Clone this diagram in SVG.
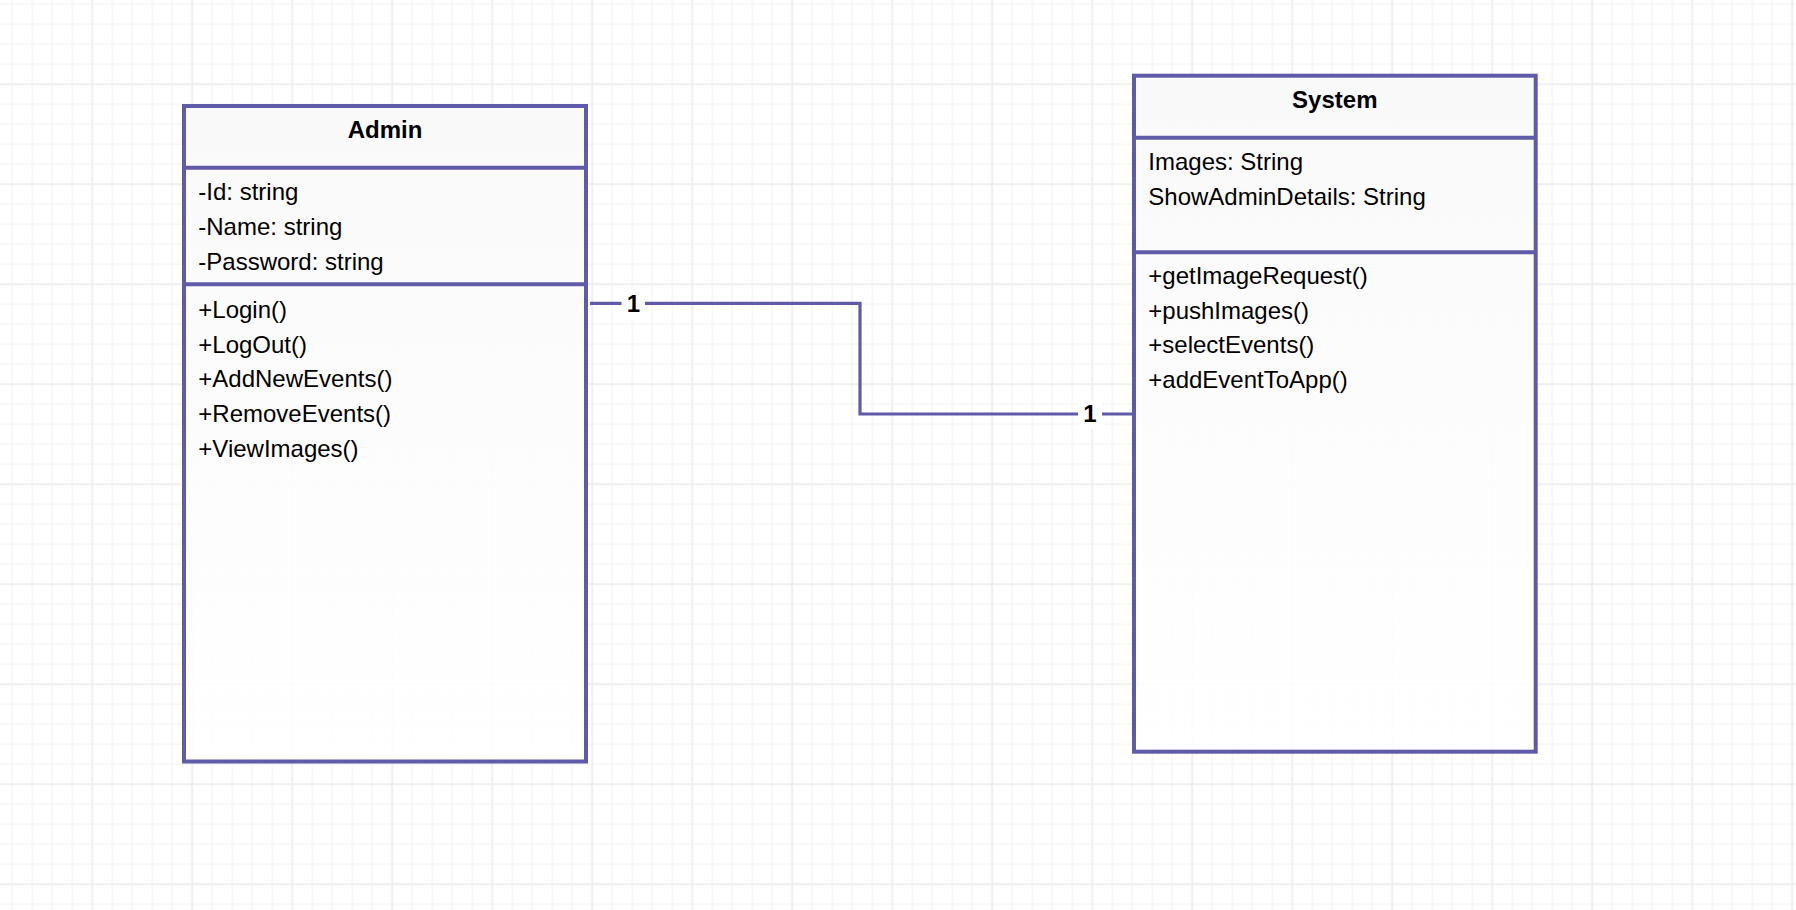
<svg xmlns="http://www.w3.org/2000/svg" width="1796" height="910" viewBox="0 0 1796 910">
  <defs>
    <pattern id="minor" patternUnits="userSpaceOnUse" x="11.5" y="3.5" width="20" height="20">
      <path d="M0.5 0V20M0 0.5H20" stroke="#f3f3f3" stroke-width="1.5" fill="none"/>
    </pattern>
    <pattern id="major" patternUnits="userSpaceOnUse" x="91.5" y="83.5" width="100" height="100">
      <path d="M0.5 0V100M0 0.5H100" stroke="#ececec" stroke-width="1.5" fill="none"/>
    </pattern>
    <linearGradient id="boxfill" x1="0" y1="0" x2="0" y2="1">
      <stop offset="0" stop-color="#f9f9f9"/>
      <stop offset="0.45" stop-color="#fcfcfc" stop-opacity="0.95"/>
      <stop offset="1" stop-color="#ffffff" stop-opacity="0.85"/>
    </linearGradient>
  </defs>
  <style>
    .box { fill: url(#boxfill); stroke: #5f5ba8; stroke-width: 4; }
    .div { stroke: #5f5ba8; stroke-width: 4; fill: none; }
    .conn { stroke: #5f5ba8; stroke-width: 3.2; fill: none; }
    .title { font-family: "Liberation Sans", Arial, sans-serif; font-size: 24px; font-weight: bold; fill: #000; text-anchor: middle; }
    .txt { font-family: "Liberation Sans", Arial, sans-serif; font-size: 24px; fill: #000; }
    .lbl { font-family: "Liberation Sans", Arial, sans-serif; font-size: 24px; font-weight: bold; fill: #000; text-anchor: middle; }
  </style>
  <rect width="1796" height="910" fill="#ffffff"/>
  <rect width="1796" height="910" fill="url(#minor)"/>
  <rect width="1796" height="910" fill="url(#major)"/>

  <g id="connectors">
    <path class="conn" d="M590 303.3H860V414H1133"/>
    <rect x="621.5" y="290" width="23.5" height="28" fill="#ffffff"/>
    <text class="lbl" x="633.5" y="311.7">1</text>
    <rect x="1078" y="401" width="24" height="28" fill="#ffffff"/>
    <text class="lbl" x="1090" y="421.7">1</text>
  </g>

  <g id="admin">
    <rect class="box" x="184" y="106" width="402" height="655.5"/>
    <line class="div" x1="184" y1="167.7" x2="586" y2="167.7"/>
    <line class="div" x1="184" y1="284.3" x2="586" y2="284.3"/>
    <text class="title" x="385" y="138.3">Admin</text>
    <text class="txt" x="198.3" y="200">-Id: string</text>
    <text class="txt" x="198.3" y="235">-Name: string</text>
    <text class="txt" x="198.3" y="270">-Password: string</text>
    <text class="txt" x="198.3" y="317.7">+Login()</text>
    <text class="txt" x="198.3" y="352.5">+LogOut()</text>
    <text class="txt" x="198.3" y="387">+AddNewEvents()</text>
    <text class="txt" x="198.3" y="421.8">+RemoveEvents()</text>
    <text class="txt" x="198.3" y="456.6">+ViewImages()</text>
  </g>

  <g id="system">
    <rect class="box" x="1134" y="75.7" width="401.7" height="676"/>
    <line class="div" x1="1134" y1="137.7" x2="1535.7" y2="137.7"/>
    <line class="div" x1="1134" y1="252.3" x2="1535.7" y2="252.3"/>
    <text class="title" x="1334.8" y="108.3">System</text>
    <text class="txt" x="1148.3" y="170">Images: String</text>
    <text class="txt" x="1148.3" y="205.3">ShowAdminDetails: String</text>
    <text class="txt" x="1148.3" y="284">+getImageRequest()</text>
    <text class="txt" x="1148.3" y="318.7">+pushImages()</text>
    <text class="txt" x="1148.3" y="353.4">+selectEvents()</text>
    <text class="txt" x="1148.3" y="388.2">+addEventToApp()</text>
  </g>
</svg>
